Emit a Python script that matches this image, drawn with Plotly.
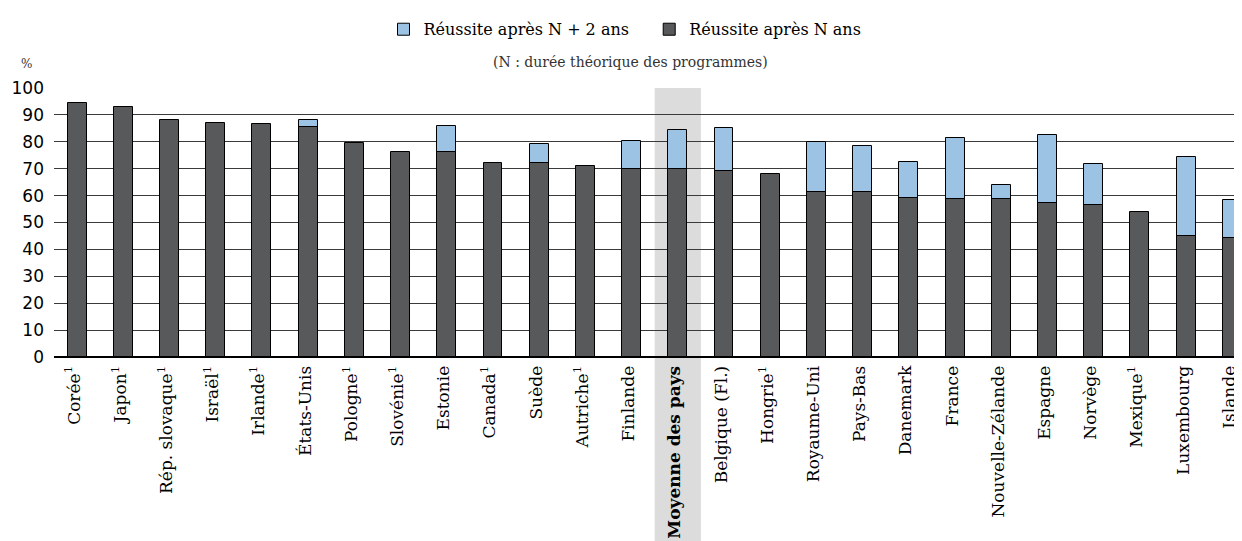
import plotly.graph_objects as go

countries = ["Corée<sup>1</sup>", "Japon<sup>1</sup>", "Rép. slovaque<sup>1</sup>", "Israël<sup>1</sup>",
             "Irlande<sup>1</sup>", "États-Unis", "Pologne<sup>1</sup>", "Slovénie<sup>1</sup>", "Estonie",
             "Canada<sup>1</sup>", "Suède", "Autriche<sup>1</sup>", "Finlande", "<b>Moyenne des pays</b>",
             "Belgique (Fl.)", "Hongrie<sup>1</sup>", "Royaume-Uni", "Pays-Bas", "Danemark", "France",
             "Nouvelle-Zélande", "Espagne", "Norvège", "Mexique<sup>1</sup>", "Luxembourg", "Islande"]

success_n = [94.6, 92.9, 88.1, 87.0, 86.7, 85.6, 79.6, 76.2, 76.1,
             72.1, 72.1, 70.9, 69.9, 69.9, 69.3, 67.9, 61.3, 61.3, 59.2, 58.8,
             58.8, 57.4, 56.6, 54.0, 45.1, 44.2]

success_n2 = [None, None, None, None, None, 88.2, None, None, 86.0,
              None, 79.2, None, 80.2, 84.5, 85.2, None, 79.9, 78.3, 72.5, 81.5,
              63.9, 82.4, 71.6, None, 74.3, 58.2]

y_ticks = [0, 10, 20, 30, 40, 50, 60, 70, 80, 90, 100]
highlight = "<b>Moyenne des pays</b>"

serif = "DejaVu Serif"
light = "#9cc3e4"
dark = "#58595b"

fig = go.Figure()
fig.add_trace(go.Bar(
    x=countries, y=success_n2, name="Réussite après N + 2 ans\u00a0\u00a0\u00a0",
    marker=dict(color=light, line=dict(color="black", width=1)), width=0.41,
))
fig.add_trace(go.Bar(
    x=countries, y=success_n, name="Réussite après N ans",
    marker=dict(color=dark, line=dict(color="black", width=1)), width=0.41,
))

idx = countries.index(highlight)
fig.add_shape(type="rect", xref="x", yref="paper", x0=idx - 0.5, x1=idx + 0.5,
              y0=-0.8, y1=1, fillcolor="#dcdcdd", line=dict(width=0), layer="below")

fig.add_annotation(text="(N : durée théorique des programmes)", xref="paper", yref="paper",
                   x=0.485, y=1.0, yshift=26, yanchor="middle", showarrow=False, xanchor="center",
                   font=dict(family=serif, size=14, color="#333333"))
fig.add_annotation(text="%", xref="paper", yref="paper", x=0, y=1.0, xshift=-28, yshift=24,
                   yanchor="middle", showarrow=False, xanchor="center",
                   font=dict(family=serif, size=12, color="#333333"))

fig.update_layout(
    barmode="overlay",
    width=1234, height=533,
    margin=dict(l=46, r=0, t=80, b=184),
    plot_bgcolor="white", paper_bgcolor="white",
    showlegend=True,
    legend=dict(orientation="h", x=0.5, xanchor="center", xref="container",
                y=0.96, yanchor="middle", yref="container",
                font=dict(family=serif, size=16, color="black"), traceorder="normal",
                itemwidth=30),
    font=dict(family=serif, color="black"),
    bargap=0,
)
fig.update_xaxes(range=[-0.5, 25.21], tickangle=-90, showgrid=False, showline=True,
                 linecolor="black", linewidth=1, ticks="", ticklabelstandoff=1, ticklabelshift=-3,
                 tickfont=dict(family=serif, size=17, color="black"))
fig.update_yaxes(range=[0, 100], tickvals=y_ticks, showgrid=True, gridcolor="#3a3a3a", gridwidth=1,
                 zeroline=True, zerolinecolor="black", ticks="", ticklabelstandoff=9,
                 tickfont=dict(family="DejaVu Sans", size=17, color="black"))

fig.write_html("out.html")
